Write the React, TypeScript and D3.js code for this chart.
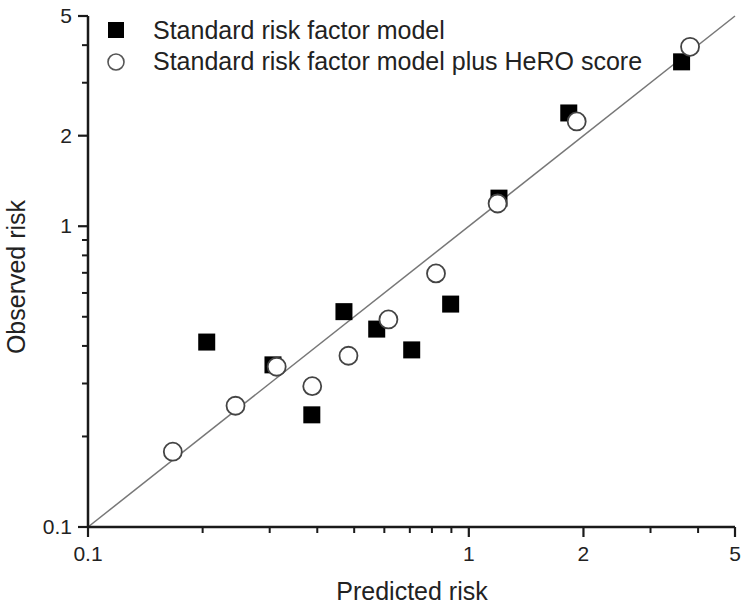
import React from "react";
import * as d3 from "d3";

const standardPredicted = [0.205, 0.306, 0.387, 0.47, 0.573, 0.708, 0.896, 1.2, 1.83, 3.62];
const standardObserved = [0.412, 0.346, 0.236, 0.52, 0.455, 0.388, 0.551, 1.24, 2.38, 3.52];
const heroPredicted = [0.167, 0.244, 0.313, 0.388, 0.483, 0.615, 0.82, 1.19, 1.92, 3.81];
const heroObserved = [0.178, 0.253, 0.341, 0.294, 0.371, 0.49, 0.697, 1.19, 2.23, 3.95];

const majorTicks = [0.1, 1, 2, 5];
const minorTicks = [0.2, 0.3, 0.4, 0.5, 0.6, 0.7, 0.8, 0.9, 3, 4];
const legendLabels = [
  "Standard risk factor model",
  "Standard risk factor model plus HeRO score",
];

const W = 750;
const H = 611;
const margin = { left: 88, right: 15, top: 16, bottom: 84 };
const FONT = "Liberation Sans, Arial, sans-serif";

const App: React.FC = () => {
  const x = d3.scaleLog().domain([0.1, 5]).range([margin.left, W - margin.right]);
  const y = d3.scaleLog().domain([0.1, 5]).range([H - margin.bottom, margin.top]);

  const x0 = x(0.1);
  const y0 = y(0.1);
  const axisStroke = "#1a1a1a";
  const sq = 17;

  const diag = d3.line<number>()
    .x((d) => x(d))
    .y((d) => y(d))([0.1, 5]);

  return (
    <svg
      width={W}
      height={H}
      style={{ position: "absolute", left: 0, top: 0, background: "#fff" }}
      fontFamily={FONT}
    >
      {/* identity line */}
      <path d={diag ?? ""} stroke="#777" strokeWidth={1.5} fill="none" />

      {/* axes */}
      <line x1={x0} x2={x(5)} y1={y0} y2={y0} stroke={axisStroke} strokeWidth={2.5} />
      <line x1={x0} x2={x0} y1={y0} y2={y(5)} stroke={axisStroke} strokeWidth={2.5} />

      {majorTicks.map((t) => (
        <g key={"mx" + t}>
          <line x1={x(t)} x2={x(t)} y1={y0} y2={y0 + 10} stroke={axisStroke} strokeWidth={2.2} />
          <text x={x(t)} y={y0 + 34} textAnchor="middle" fontSize={21} fill="#222">
            {t}
          </text>
          <line x1={x0} x2={x0 - 10} y1={y(t)} y2={y(t)} stroke={axisStroke} strokeWidth={2.2} />
          <text x={x0 - 16} y={y(t) + 7} textAnchor="end" fontSize={21} fill="#222">
            {t}
          </text>
        </g>
      ))}
      {minorTicks.map((t) => (
        <g key={"mn" + t}>
          <line x1={x(t)} x2={x(t)} y1={y0} y2={y0 + 6} stroke={axisStroke} strokeWidth={2} />
          <line x1={x0} x2={x0 - 6} y1={y(t)} y2={y(t)} stroke={axisStroke} strokeWidth={2} />
        </g>
      ))}

      {/* axis titles */}
      <text x={412} y={600} textAnchor="middle" fontSize={25} fill="#222">
        Predicted risk
      </text>
      <text
        transform={`translate(25, 277) rotate(-90)`}
        textAnchor="middle"
        fontSize={25}
        fill="#222"
      >
        Observed risk
      </text>

      {/* standard model: filled squares */}
      {standardPredicted.map((p, i) => (
        <rect
          key={"s" + i}
          x={x(p) - sq / 2}
          y={y(standardObserved[i]) - sq / 2}
          width={sq}
          height={sq}
          fill="#000"
        />
      ))}

      {/* plus HeRO: open circles */}
      {heroPredicted.map((p, i) => (
        <circle
          key={"h" + i}
          cx={x(p)}
          cy={y(heroObserved[i])}
          r={9}
          fill="#fff"
          stroke="#444"
          strokeWidth={1.8}
        />
      ))}

      {/* legend */}
      <rect x={116 - 8} y={30 - 8} width={16} height={16} fill="#000" />
      <circle cx={116} cy={62} r={8} fill="#fff" stroke="#555" strokeWidth={1.6} />
      {legendLabels.map((l, i) => (
        <text key={l} x={153} y={39 + i * 31} fontSize={25} fill="#222">
          {l}
        </text>
      ))}
    </svg>
  );
};

export default App;
